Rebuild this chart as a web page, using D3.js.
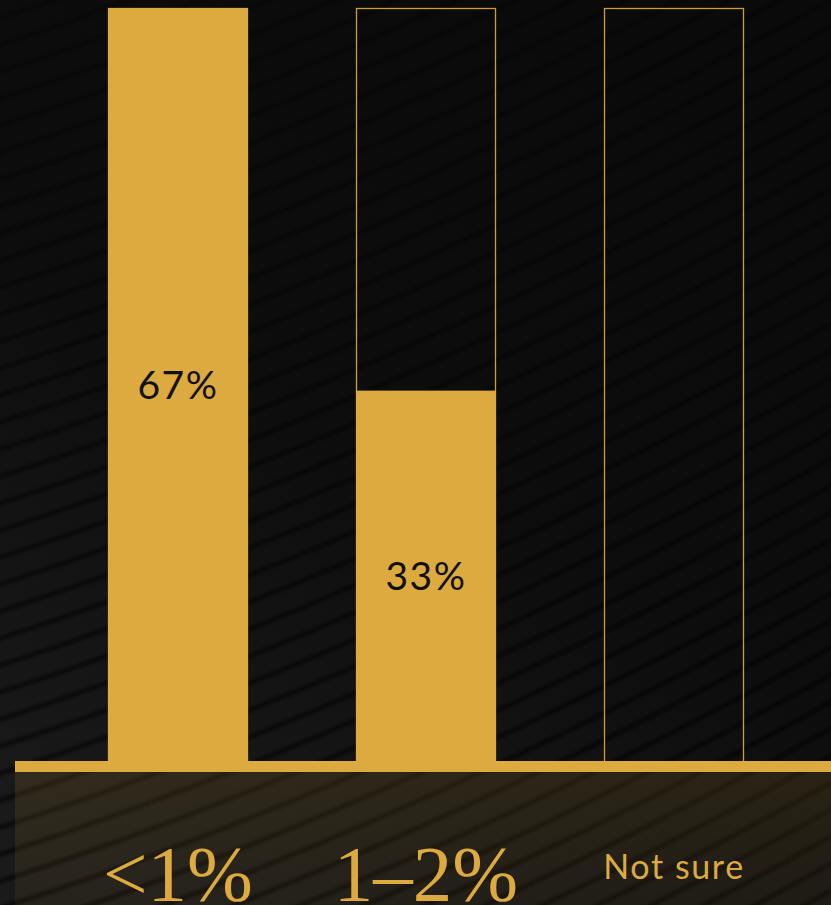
<!DOCTYPE html>
<html>
<head>
<meta charset="utf-8">
<script src="https://cdn.jsdelivr.net/npm/d3@7"></script>
<style>
  html, body { margin: 0; padding: 0; background: #0b0b0b; }
  svg { display: block; }
</style>
</head>
<body>
<div id="chart"></div>
<script>
// Survey answers and their shares (percent)
const categories = ["<1%", "1–2%", "Not sure"];
const values = [67, 33, 0];
const valueLabels = ["67%", "33%", ""];
const categoryStyles = ["serif", "serif", "sans"];

const W = 831, H = 905;
const gold = "#dcaa3e";

const svg = d3.select("#chart").append("svg")
  .attr("width", W).attr("height", H);

const defs = svg.append("defs");

// Background tone: darker at the top, lighter towards the lower left
const bg = defs.append("linearGradient").attr("id", "bgGrad")
  .attr("x1", "0.7").attr("y1", "0").attr("x2", "0.2").attr("y2", "1");
bg.append("stop").attr("offset", "0").attr("stop-color", "#0a0a0a");
bg.append("stop").attr("offset", "0.5").attr("stop-color", "#0d0d0d");
bg.append("stop").attr("offset", "1").attr("stop-color", "#1a1a1a");

const band = defs.append("linearGradient").attr("id", "footGrad")
  .attr("x1", "0").attr("y1", "0").attr("x2", "0").attr("y2", "1");
band.append("stop").attr("offset", "0").attr("stop-color", gold).attr("stop-opacity", 0.13);
band.append("stop").attr("offset", "1").attr("stop-color", gold).attr("stop-opacity", 0.06);

// Streaks fade in towards the bottom
const fade = defs.append("linearGradient").attr("id", "streakFade")
  .attr("gradientUnits", "userSpaceOnUse")
  .attr("x1", 0).attr("y1", 0).attr("x2", 0).attr("y2", H);
fade.append("stop").attr("offset", "0").attr("stop-color", "#000").attr("stop-opacity", 0.3);
fade.append("stop").attr("offset", "1").attr("stop-color", "#000").attr("stop-opacity", 0.6);

defs.append("filter").attr("id", "soft")
  .attr("x", "-10%").attr("y", "-10%").attr("width", "120%").attr("height", "120%")
  .append("feGaussianBlur").attr("stdDeviation", 1.8);

svg.append("rect").attr("width", W).attr("height", H).attr("fill", "url(#bgGrad)");

// Diagonal streak texture
const streaks = svg.append("g").attr("filter", "url(#soft)");
d3.range(-6, 52).forEach(i => {
  const y = i * 27;
  streaks.append("path")
    .attr("d", `M-30,${y} Q400,${y - 135} 870,${y - 400}`)
    .attr("fill", "none")
    .attr("stroke", "url(#streakFade)")
    .attr("stroke-width", 5);
});

// Scales
const baseY = 762;
const x = d3.scaleBand().domain(categories).range([108, 744])
  .paddingInner(0.4355).paddingOuter(0);
const y = d3.scaleLinear().domain([0, d3.max(values)]).range([baseY, 8]);

// Lower band under the baseline
svg.append("rect")
  .attr("x", 15).attr("y", 772).attr("width", W - 15).attr("height", H - 772)
  .attr("fill", "url(#footGrad)");

// Outline frames (full scale)
svg.selectAll("rect.frame").data(categories).join("rect")
  .attr("class", "frame")
  .attr("x", d => x(d) + 0.5)
  .attr("y", y(d3.max(values)) + 0.5)
  .attr("width", x.bandwidth() - 1)
  .attr("height", baseY - y(d3.max(values)))
  .attr("fill", "none")
  .attr("stroke", "#d09c33")
  .attr("stroke-width", 1.3);

// Filled bars
svg.selectAll("rect.bar").data(values).join("rect")
  .attr("class", "bar")
  .attr("x", (d, i) => x(categories[i]))
  .attr("y", d => y(d))
  .attr("width", x.bandwidth())
  .attr("height", d => baseY - y(d))
  .attr("fill", gold);

// Value labels inside bars
svg.selectAll("text.val").data(values).join("text")
  .attr("class", "val")
  .attr("x", (d, i) => x(categories[i]) + x.bandwidth() / 2)
  .attr("y", d => (y(d) + baseY) / 2 + 4)
  .attr("text-anchor", "middle")
  .attr("dominant-baseline", "middle")
  .attr("font-family", "Lato, 'Noto Sans', sans-serif")
  .attr("font-weight", 400)
  .attr("font-size", 39)
  .attr("letter-spacing", 1.5)
  .attr("fill", "#111")
  .text((d, i) => valueLabels[i]);

// Baseline bar
svg.append("rect")
  .attr("x", 15).attr("y", 761).attr("width", W - 15).attr("height", 11)
  .attr("fill", gold);

// Category labels
svg.selectAll("text.cat").data(categories).join("text")
  .attr("class", "cat")
  .attr("x", d => x(d) + x.bandwidth() / 2)
  .attr("y", (d, i) => categoryStyles[i] === "serif" ? 900 : 879)
  .attr("text-anchor", "middle")
  .attr("font-family", (d, i) => categoryStyles[i] === "serif"
    ? "'Liberation Serif', 'DejaVu Serif', serif"
    : "Lato, 'Noto Sans', sans-serif")
  .attr("font-size", (d, i) => categoryStyles[i] === "serif" ? 79 : 34)
  .attr("letter-spacing", (d, i) => categoryStyles[i] === "serif" ? 0 : 1.6)
  .attr("fill", gold)
  .text(d => d);
</script>
</body>
</html>
